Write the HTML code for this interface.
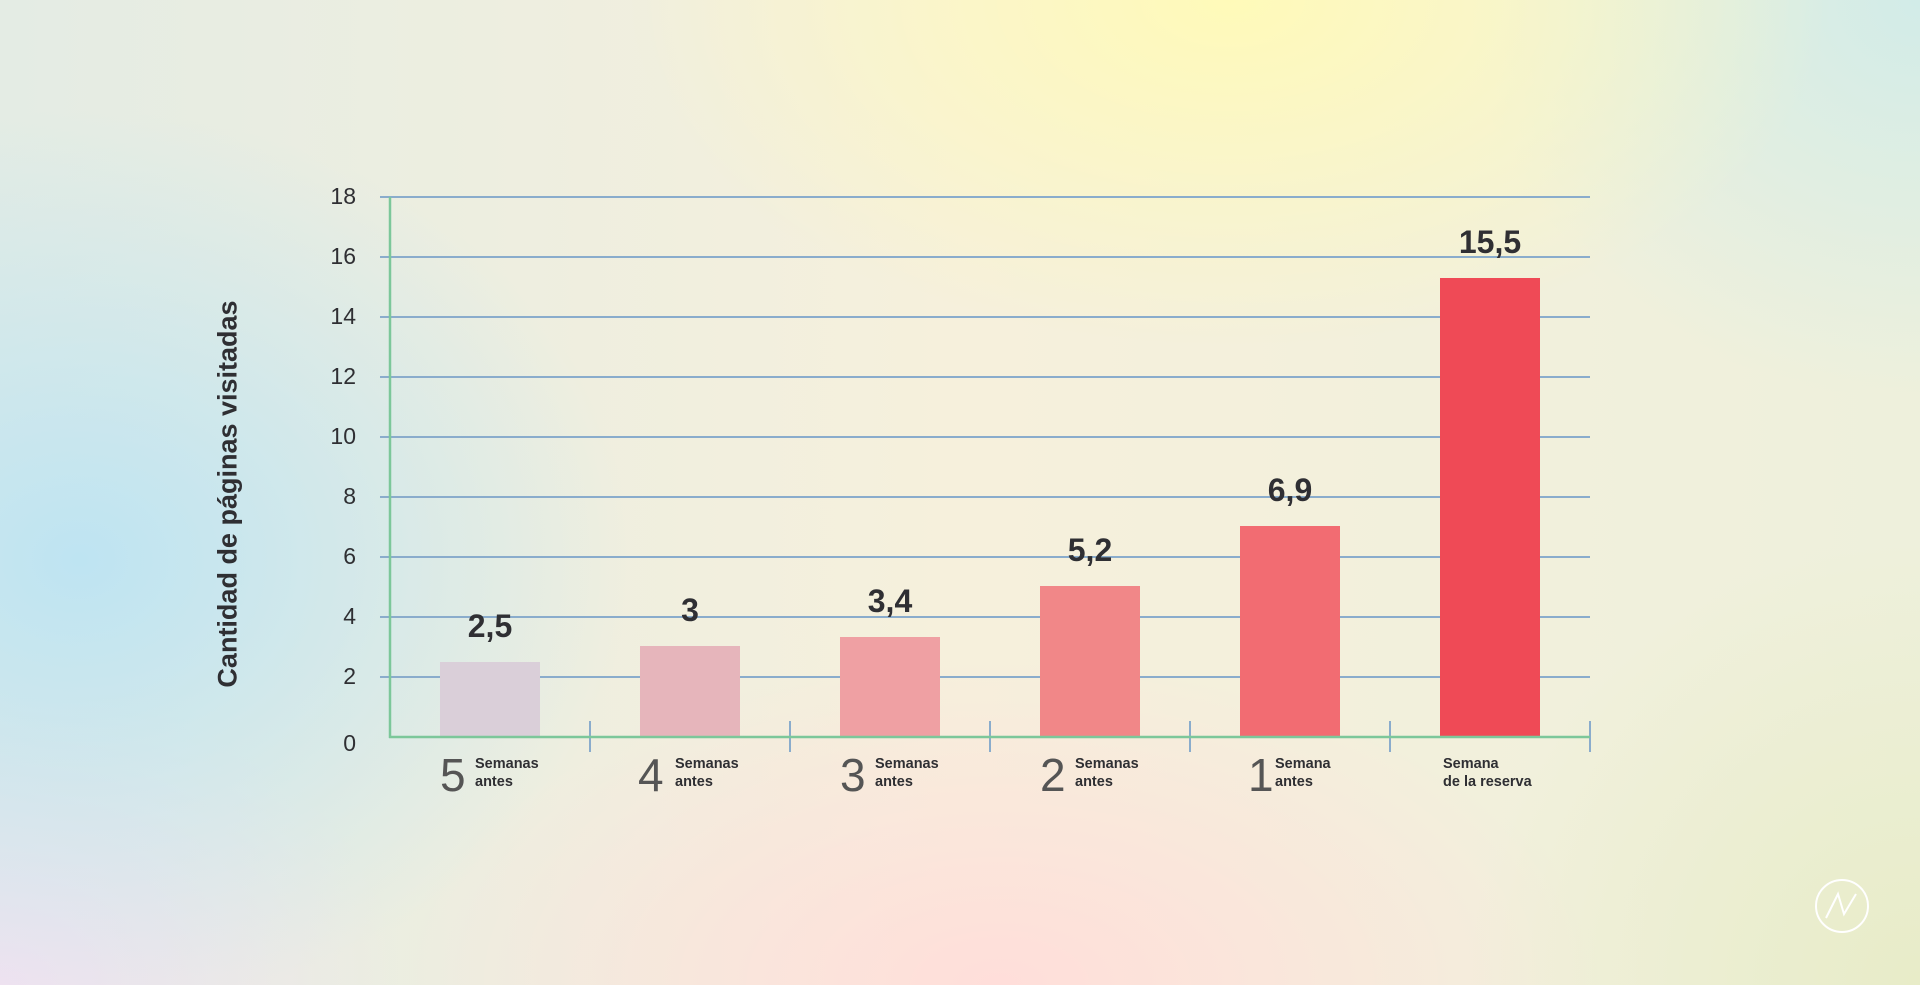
<!DOCTYPE html>
<html><head><meta charset="utf-8"><style>
html,body{margin:0;padding:0}
body{width:1920px;height:985px;position:relative;overflow:hidden;font-family:"Liberation Sans",sans-serif;color:#2f2f33;
background:
radial-gradient(ellipse 600px 350px at 1230px 0px,rgba(255,250,185,1),rgba(255,250,185,0)),
radial-gradient(ellipse 550px 450px at 80px 560px,rgba(190,228,242,1),rgba(190,228,242,0)),
radial-gradient(ellipse 600px 330px at 1000px 985px,rgba(255,222,218,1),rgba(255,222,218,0)),
radial-gradient(ellipse 450px 400px at 1920px 0px,rgba(210,236,232,1),rgba(210,236,232,0)),
radial-gradient(ellipse 450px 450px at 1920px 985px,rgba(232,236,200,1),rgba(232,236,200,0)),
radial-gradient(ellipse 400px 300px at 0px 985px,rgba(240,226,240,1),rgba(240,226,240,0)),
linear-gradient(90deg,#e4ece4,#f6f0dc 50%,#eef0dc);}
.t{position:absolute;font-size:23px;text-align:right;width:60px;left:296px}
.v{position:absolute;font-size:32px;font-weight:bold;width:160px;text-align:center}
.d{position:absolute;font-size:46px;font-weight:100;color:#555;top:748px}
.s{position:absolute;font-size:14.5px;font-weight:bold;line-height:18px;top:755px}
</style></head><body>
<svg width="1920" height="985" style="position:absolute;left:0;top:0">
<g stroke="#8aaccc" stroke-width="2">
<line x1="380" x2="1590" y1="197" y2="197"/><line x1="380" x2="1590" y1="257" y2="257"/><line x1="380" x2="1590" y1="317" y2="317"/><line x1="380" x2="1590" y1="377" y2="377"/><line x1="380" x2="1590" y1="437" y2="437"/><line x1="380" x2="1590" y1="497" y2="497"/><line x1="380" x2="1590" y1="557" y2="557"/><line x1="380" x2="1590" y1="617" y2="617"/><line x1="380" x2="1590" y1="677" y2="677"/>
<line x1="590" x2="590" y1="721" y2="752"/><line x1="790" x2="790" y1="721" y2="752"/><line x1="990" x2="990" y1="721" y2="752"/><line x1="1190" x2="1190" y1="721" y2="752"/><line x1="1390" x2="1390" y1="721" y2="752"/><line x1="1590" x2="1590" y1="721" y2="752"/>
</g>
<rect x="440" y="662" width="100" height="75" fill="#dacfd9"/>
<rect x="640" y="646" width="100" height="91" fill="#e6b5bb"/>
<rect x="840" y="637" width="100" height="100" fill="#efa0a3"/>
<rect x="1040" y="586" width="100" height="151" fill="#f18788"/>
<rect x="1240" y="526" width="100" height="211" fill="#f26c72"/>
<rect x="1440" y="278" width="100" height="459" fill="#ef4a56"/>
<g stroke="#7cc79a" stroke-width="2.5" fill="none"><line x1="390" x2="390" y1="197" y2="738"/><line x1="389" x2="1590" y1="737" y2="737"/></g>
<circle cx="1842" cy="906" r="26" fill="none" stroke="#fff" stroke-width="2"/>
<path d="M1826 918 L1838 894 L1844 914 L1856 894" fill="none" stroke="#fff" stroke-width="2"/>
</svg>
<div class="t" style="top:183px">18</div><div class="t" style="top:243px">16</div><div class="t" style="top:303px">14</div><div class="t" style="top:363px">12</div><div class="t" style="top:423px">10</div><div class="t" style="top:483px">8</div><div class="t" style="top:543px">6</div><div class="t" style="top:603px">4</div><div class="t" style="top:663px">2</div><div class="t" style="top:730px">0</div>
<div style="position:absolute;left:228px;top:494px;transform:translate(-50%,-50%) rotate(-90deg);font-size:27px;font-weight:bold;white-space:nowrap">Cantidad de páginas visitadas</div>
<div class="v" style="left:410px;top:608px">2,5</div>
<div class="v" style="left:610px;top:592px">3</div>
<div class="v" style="left:810px;top:583px">3,4</div>
<div class="v" style="left:1010px;top:532px">5,2</div>
<div class="v" style="left:1210px;top:472px">6,9</div>
<div class="v" style="left:1410px;top:224px">15,5</div>
<div class="d" style="left:440px">5</div><div class="s" style="left:475px">Semanas<br>antes</div>
<div class="d" style="left:638px">4</div><div class="s" style="left:675px">Semanas<br>antes</div>
<div class="d" style="left:840px">3</div><div class="s" style="left:875px">Semanas<br>antes</div>
<div class="d" style="left:1040px">2</div><div class="s" style="left:1075px">Semanas<br>antes</div>
<div class="d" style="left:1248px">1</div><div class="s" style="left:1275px">Semana<br>antes</div>
<div class="s" style="left:1443px">Semana<br>de la reserva</div>
</body></html>
